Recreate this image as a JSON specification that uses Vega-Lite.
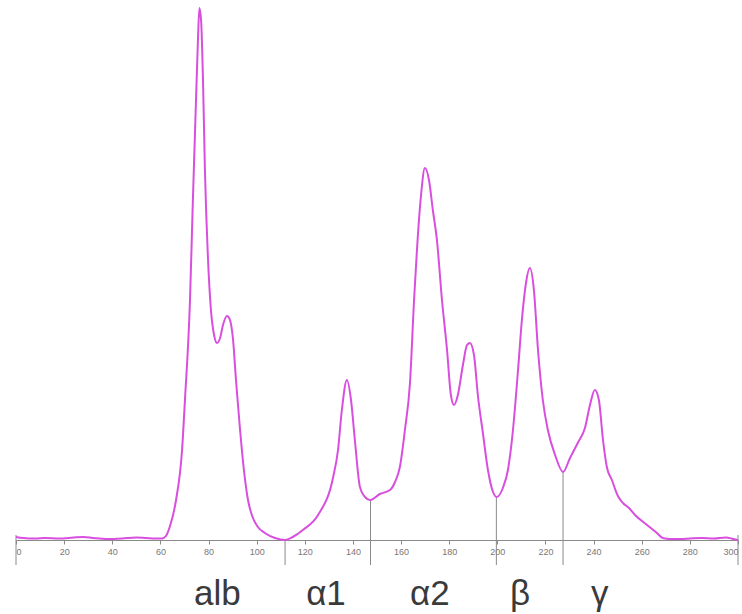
{
  "$schema": "https://vega.github.io/schema/vega-lite/v6.json",
  "autosize": {"type": "none"},
  "width": 722,
  "height": 532,
  "padding": {"left": 16, "top": 8, "right": 4, "bottom": 74},
  "background": "white",
  "config": {"view": {"strokeWidth": 0}},
  "data": {"values": [
    {"kind": "div", "x": 0, "top": 5, "bottom": -25},
    {"kind": "div", "x": 111.8, "top": 0, "bottom": -25},
    {"kind": "div", "x": 147.3, "top": 40, "bottom": -25},
    {"kind": "div", "x": 199.6, "top": 43, "bottom": -25},
    {"kind": "div", "x": 227.3, "top": 68, "bottom": -25},
    {"kind": "div", "x": 300, "top": 5, "bottom": -25},
    {"kind": "lab", "x": 83.7, "top": -65, "name": "alb"},
    {"kind": "lab", "x": 128.8, "top": -65, "name": "α1"},
    {"kind": "lab", "x": 172, "top": -65, "name": "α2"},
    {"kind": "lab", "x": 209.4, "top": -65, "name": "β"},
    {"kind": "lab", "x": 242.6, "top": -65, "name": "γ"},
    {"kind": "c", "x": 0, "v": 3}, {"kind": "c", "x": 3, "v": 2}, {"kind": "c", "x": 8, "v": 1.5}, {"kind": "c", "x": 12, "v": 2}, {"kind": "c", "x": 18, "v": 1.5},
    {"kind": "c", "x": 24, "v": 2.5}, {"kind": "c", "x": 28, "v": 3}, {"kind": "c", "x": 32, "v": 2}, {"kind": "c", "x": 38, "v": 1}, {"kind": "c", "x": 44, "v": 1.5},
    {"kind": "c", "x": 50, "v": 2.5}, {"kind": "c", "x": 54, "v": 2}, {"kind": "c", "x": 58, "v": 1.5}, {"kind": "c", "x": 60.7, "v": 1.5},
    {"kind": "c", "x": 62.3, "v": 4}, {"kind": "c", "x": 64, "v": 14}, {"kind": "c", "x": 66.5, "v": 40}, {"kind": "c", "x": 69, "v": 90}, {"kind": "c", "x": 70.2, "v": 140},
    {"kind": "c", "x": 72.3, "v": 240}, {"kind": "c", "x": 73.5, "v": 340}, {"kind": "c", "x": 74.8, "v": 440}, {"kind": "c", "x": 75.6, "v": 500}, {"kind": "c", "x": 76.2, "v": 532},
    {"kind": "c", "x": 76.9, "v": 520}, {"kind": "c", "x": 77.7, "v": 460}, {"kind": "c", "x": 78.5, "v": 370}, {"kind": "c", "x": 79.8, "v": 280}, {"kind": "c", "x": 81.0, "v": 230},
    {"kind": "c", "x": 82.3, "v": 205}, {"kind": "c", "x": 83.5, "v": 197}, {"kind": "c", "x": 84.8, "v": 202}, {"kind": "c", "x": 86.0, "v": 215}, {"kind": "c", "x": 87.7, "v": 224},
    {"kind": "c", "x": 88.9, "v": 220}, {"kind": "c", "x": 90.2, "v": 200}, {"kind": "c", "x": 91.4, "v": 160}, {"kind": "c", "x": 93.1, "v": 110}, {"kind": "c", "x": 94.7, "v": 70},
    {"kind": "c", "x": 96.4, "v": 40}, {"kind": "c", "x": 98.0, "v": 25}, {"kind": "c", "x": 100.5, "v": 13}, {"kind": "c", "x": 103.4, "v": 7}, {"kind": "c", "x": 107.6, "v": 2},
    {"kind": "c", "x": 111.8, "v": 0}, {"kind": "c", "x": 115, "v": 3}, {"kind": "c", "x": 119.2, "v": 10}, {"kind": "c", "x": 125.5, "v": 25}, {"kind": "c", "x": 131.7, "v": 62},
    {"kind": "c", "x": 133.8, "v": 90}, {"kind": "c", "x": 135.4, "v": 130}, {"kind": "c", "x": 137.5, "v": 160}, {"kind": "c", "x": 139.2, "v": 140}, {"kind": "c", "x": 140.8, "v": 100},
    {"kind": "c", "x": 142.9, "v": 53}, {"kind": "c", "x": 145, "v": 43}, {"kind": "c", "x": 147.1, "v": 40}, {"kind": "c", "x": 151.2, "v": 46}, {"kind": "c", "x": 155.4, "v": 50},
    {"kind": "c", "x": 157.5, "v": 58}, {"kind": "c", "x": 159.5, "v": 73}, {"kind": "c", "x": 161.6, "v": 110}, {"kind": "c", "x": 163.7, "v": 157}, {"kind": "c", "x": 165.4, "v": 240},
    {"kind": "c", "x": 166.6, "v": 290}, {"kind": "c", "x": 168.3, "v": 345}, {"kind": "c", "x": 169.9, "v": 372}, {"kind": "c", "x": 171.6, "v": 360}, {"kind": "c", "x": 173.2, "v": 330},
    {"kind": "c", "x": 174.9, "v": 300}, {"kind": "c", "x": 177.0, "v": 240}, {"kind": "c", "x": 179.1, "v": 190}, {"kind": "c", "x": 180.7, "v": 145}, {"kind": "c", "x": 182.0, "v": 135},
    {"kind": "c", "x": 183.6, "v": 145}, {"kind": "c", "x": 185.7, "v": 175}, {"kind": "c", "x": 187.4, "v": 195}, {"kind": "c", "x": 188.6, "v": 197}, {"kind": "c", "x": 190.3, "v": 185},
    {"kind": "c", "x": 191.9, "v": 145}, {"kind": "c", "x": 194, "v": 107}, {"kind": "c", "x": 196.1, "v": 70}, {"kind": "c", "x": 198.2, "v": 48}, {"kind": "c", "x": 199.8, "v": 43},
    {"kind": "c", "x": 202.3, "v": 52}, {"kind": "c", "x": 204.4, "v": 70}, {"kind": "c", "x": 206.5, "v": 110}, {"kind": "c", "x": 208.6, "v": 170}, {"kind": "c", "x": 210.2, "v": 220},
    {"kind": "c", "x": 211.9, "v": 257}, {"kind": "c", "x": 213.5, "v": 272}, {"kind": "c", "x": 215.2, "v": 250}, {"kind": "c", "x": 216.9, "v": 190}, {"kind": "c", "x": 218.9, "v": 140},
    {"kind": "c", "x": 221.0, "v": 110}, {"kind": "c", "x": 224.0, "v": 85}, {"kind": "c", "x": 227.3, "v": 68}, {"kind": "c", "x": 230.2, "v": 82}, {"kind": "c", "x": 233.4, "v": 97},
    {"kind": "c", "x": 236.4, "v": 112}, {"kind": "c", "x": 238.5, "v": 135}, {"kind": "c", "x": 240.5, "v": 150}, {"kind": "c", "x": 242.2, "v": 140}, {"kind": "c", "x": 243.9, "v": 100},
    {"kind": "c", "x": 245.5, "v": 73}, {"kind": "c", "x": 247.6, "v": 60}, {"kind": "c", "x": 250.1, "v": 44}, {"kind": "c", "x": 252.2, "v": 37}, {"kind": "c", "x": 254.7, "v": 32},
    {"kind": "c", "x": 257.2, "v": 25}, {"kind": "c", "x": 262.2, "v": 15}, {"kind": "c", "x": 266.3, "v": 7}, {"kind": "c", "x": 268.8, "v": 2}, {"kind": "c", "x": 271.7, "v": 1},
    {"kind": "c", "x": 276, "v": 1}, {"kind": "c", "x": 280, "v": 1.5}, {"kind": "c", "x": 285, "v": 2}, {"kind": "c", "x": 290, "v": 1.5}, {"kind": "c", "x": 295, "v": 2.5},
    {"kind": "c", "x": 298, "v": 1}, {"kind": "c", "x": 300, "v": 0}
  ]},
  "encoding": {
    "x": {
      "field": "x", "type": "quantitative",
      "scale": {"domain": [0, 300], "nice": false},
      "axis": {
        "title": null, "values": [0, 20, 40, 60, 80, 100, 120, 140, 160, 180, 200, 220, 240, 260, 280, 300],
        "grid": false, "domainColor": "#8a8a8a", "tickColor": "#8a8a8a", "tickSize": 4,
        "labelFontSize": 9, "labelColor": "#777777", "labelFont": "Liberation Sans", "labelPadding": 3
      }
    }
  },
  "layer": [
    {
      "transform": [{"filter": "datum.kind === 'div'"}],
      "mark": {"type": "rule", "color": "#8a8a8a", "strokeWidth": 1},
      "encoding": {
        "y": {"field": "top", "type": "quantitative", "scale": {"domain": [0, 532], "nice": false}, "axis": null},
        "y2": {"field": "bottom"}
      }
    },
    {
      "transform": [{"filter": "datum.kind === 'c'"}],
      "mark": {"type": "line", "color": "#d84fdf", "strokeWidth": 2, "interpolate": "monotone"},
      "encoding": {
        "y": {"field": "v", "type": "quantitative", "scale": {"domain": [0, 532], "nice": false}, "axis": null}
      }
    },
    {
      "transform": [{"filter": "datum.kind === 'lab'"}],
      "mark": {"type": "text", "font": "Liberation Sans", "fontSize": 35, "color": "#3a3a3a", "baseline": "alphabetic", "align": "center"},
      "encoding": {
        "y": {"field": "top", "type": "quantitative", "scale": {"domain": [0, 532], "nice": false}, "axis": null},
        "text": {"field": "name", "type": "nominal"}
      }
    }
  ]
}
